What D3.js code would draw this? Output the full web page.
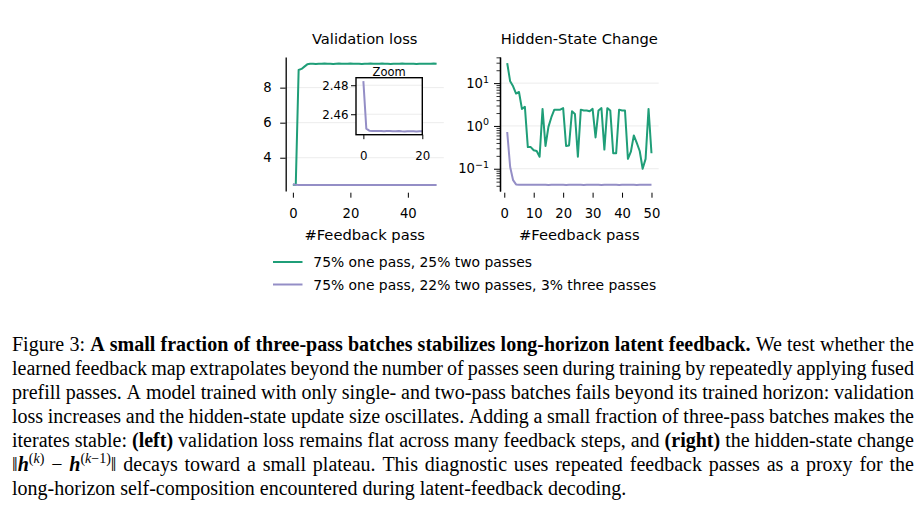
<!DOCTYPE html>
<html>
<head>
<meta charset="utf-8">
<script src="https://cdn.jsdelivr.net/npm/d3@7"></script>
<style>
  body { margin: 0; background: #fff; }
  svg text { font-family: "DejaVu Sans", sans-serif; fill: #000; white-space: pre; }
</style>
</head>
<body>
<script>
// ---- data ----
let lossPasses = d3.range(0, 51)      // x for the validation-loss panel
let changePasses = d3.range(1, 51)    // x for the hidden-state panel

let lossTicks = [4, 6, 8]
let lossXTicks = [0, 20, 40]
let changeXTicks = [0, 10, 20, 30, 40, 50]
let changeYTicks = [0.1, 1, 10]
let insetYTicks = [2.46, 2.48]
let insetXTicks = [0, 20]

let seriesNames = ["75% one pass, 25% two passes",
                   "75% one pass, 22% two passes, 3% three passes"]

// 75/25 mix
let lossTwoPass = [2.45, 2.45, 9.01, 9.07, 9.20, 9.33, 9.36, 9.37, 9.35, 9.37,
                   9.36, 9.38, 9.36, 9.37, 9.35, 9.37, 9.38, 9.36, 9.37, 9.36,
                   9.38, 9.37, 9.36, 9.37, 9.35, 9.37, 9.36, 9.38, 9.37, 9.36,
                   9.37, 9.38, 9.36, 9.37, 9.35, 9.37, 9.36, 9.37, 9.38, 9.36,
                   9.37, 9.36, 9.37, 9.35, 9.37, 9.36, 9.37, 9.36, 9.37, 9.38,
                   9.37]
// 75/22/3 mix
let lossThreePass = [2.4828, 2.4501, 2.4487, 2.4485, 2.4484, 2.4485, 2.4484, 2.4483, 2.4484, 2.4484,
                     2.4483, 2.4483, 2.4484, 2.4482, 2.4481, 2.4482, 2.4483, 2.4482, 2.4481, 2.4482,
                     2.4482, 2.4483, 2.4482, 2.4482, 2.4481, 2.4482, 2.4483, 2.4482, 2.4481, 2.4482,
                     2.4482, 2.4483, 2.4482, 2.4481, 2.4482, 2.4482, 2.4481, 2.4482, 2.4483, 2.4482,
                     2.4481, 2.4482, 2.4482, 2.4481, 2.4482, 2.4483, 2.4482, 2.4481, 2.4482, 2.4482,
                     2.4481]

let changeTwoPass = [29.3, 11.0, 8.4, 5.7, 6.2, 2.5, 2.8, 0.32, 0.32, 0.27,
                     0.26, 0.19, 2.5, 0.34, 0.95, 1.6, 2.4, 2.4, 2.4, 2.6,
                     0.34, 0.35, 2.2, 1.9, 0.19, 2.4, 2.3, 2.3, 2.2, 2.5,
                     0.54, 2.3, 2.6, 0.28, 2.6, 2.3, 0.23, 0.23, 2.4, 2.3,
                     2.3, 0.17, 0.25, 0.6, 0.4, 0.26, 0.10, 0.17, 2.5, 0.23]
let changeThreePass = [0.72, 0.11, 0.054, 0.043, 0.0425, 0.0422, 0.0421, 0.0421, 0.042, 0.0421,
                       0.042, 0.042, 0.0421, 0.042, 0.0419, 0.042, 0.042, 0.0421, 0.042, 0.042,
                       0.0419, 0.042, 0.042, 0.0421, 0.042, 0.042, 0.0419, 0.042, 0.0421, 0.042,
                       0.042, 0.042, 0.0419, 0.042, 0.0421, 0.042, 0.042, 0.042, 0.0419, 0.042,
                       0.0421, 0.042, 0.042, 0.042, 0.0419, 0.042, 0.0421, 0.042, 0.042, 0.042]

let captionLines = [
  [["Figure 3: ", ""], ["A small fraction of three-pass batches stabilizes long-horizon latent feedback.", "b"], [" We test whether the", ""]],
  [["learned feedback map extrapolates beyond the number of passes seen during training by repeatedly applying fused", ""]],
  [["prefill passes. A model trained with only single- and two-pass batches fails beyond its trained horizon: validation", ""]],
  [["loss increases and the hidden-state update size oscillates. Adding a small fraction of three-pass batches makes the", ""]],
  [["iterates stable: ", ""], ["(left)", "b"], [" validation loss remains flat across many feedback steps, and ", ""], ["(right)", "b"], [" the hidden-state change", ""]],
  [["\u2016", ""], ["h", "bi"], ["(", "sup"], ["k", "supi"], [")", "sup"], [" \u2212 ", ""], ["h", "bi"], ["(", "sup"], ["k", "supi"], ["\u22121)", "sup"], ["\u2016", ""],
   [" decays toward a small plateau. This diagnostic uses repeated feedback passes as a proxy for the", ""]],
  [["long-horizon self-composition encountered during latent-feedback decoding.", ""]]
]

// ---- setup ----
let width = 923, height = 518
let green = "#1f9e78", purple = "#948ec6", gridColor = "#ececec"
let tickFont = 13.2

let svg = d3.select("body").append("svg")
    .attr("width", width)
    .attr("height", height)

function styleAxis(g, size) {
    g.selectAll("text").style("font-size", size + "px").attr("fill", "#000")
    g.selectAll(".tick line").attr("stroke", "#000").attr("stroke-width", 1)
    g.select(".domain").attr("stroke", "#000").attr("stroke-width", 1.3)
}

// ---- left: validation loss ----
let xL = d3.scaleLinear().domain([-2.5, 52.5]).range([285.7, 443.8])
let yL = d3.scaleLinear().domain([2.1, 9.75]).range([191, 57])

svg.append("g").selectAll("line")
    .data(lossTicks).enter().append("line")
    .attr("x1", xL.range()[0]).attr("x2", xL.range()[1])
    .attr("y1", d => yL(d)).attr("y2", d => yL(d))
    .attr("stroke", gridColor).attr("stroke-width", 1)

let lineL = d3.line().x((d, i) => xL(lossPasses[i])).y(d => yL(d))
svg.append("path").datum(lossTwoPass).attr("d", lineL)
    .attr("fill", "none").attr("stroke", green).attr("stroke-width", 2).attr("stroke-linejoin", "round")
svg.append("path").datum(lossThreePass).attr("d", lineL)
    .attr("fill", "none").attr("stroke", purple).attr("stroke-width", 2).attr("stroke-linejoin", "round")

svg.append("g").attr("transform", "translate(285.7,0)")
    .call(d3.axisLeft(yL).tickValues(lossTicks).tickSize(5.5).tickSizeOuter(0).tickPadding(8.5))
    .call(g => styleAxis(g, tickFont))

svg.append("g").attr("transform", "translate(0,192.7)")
    .call(d3.axisBottom(xL).tickValues(lossXTicks).tickSize(5).tickPadding(11))
    .call(g => g.select(".domain").remove())
    .call(g => styleAxis(g, tickFont))

svg.append("text").attr("x", 364.7).attr("y", 44.3).attr("text-anchor", "middle")
    .style("font-size", "14.7px").text("Validation loss")
svg.append("text").attr("x", 364.7).attr("y", 240).attr("text-anchor", "middle")
    .style("font-size", "14.7px").text("#Feedback pass")

// inset zoom
let xI = d3.scaleLinear().domain([-2.5, 20]).range([356, 422.3])
let yI = d3.scaleLinear().domain([2.4459, 2.4852]).range([134.7, 77.7])
let inset = svg.append("g")
inset.append("rect").attr("x", 356).attr("y", 77.7).attr("width", 66.3).attr("height", 57)
    .attr("fill", "#fff")
inset.append("clipPath").attr("id", "insetClip").append("rect")
    .attr("x", 356).attr("y", 77.7).attr("width", 66.3).attr("height", 57)
inset.selectAll(".grid").data(insetYTicks).enter().append("line")
    .attr("x1", 356).attr("x2", 422.3)
    .attr("y1", d => yI(d)).attr("y2", d => yI(d))
    .attr("stroke", gridColor).attr("stroke-width", 1)
inset.append("path").datum(lossThreePass)
    .attr("clip-path", "url(#insetClip)")
    .attr("d", d3.line().x((d, i) => xI(lossPasses[i])).y(d => yI(d)))
    .attr("fill", "none").attr("stroke", purple).attr("stroke-width", 2).attr("stroke-linejoin", "round")
inset.append("rect").attr("x", 356).attr("y", 77.7).attr("width", 66.3).attr("height", 57)
    .attr("fill", "none").attr("stroke", "#000").attr("stroke-width", 1.4)
inset.append("g").attr("transform", "translate(356,0)")
    .call(d3.axisLeft(yI).tickValues(insetYTicks).tickFormat(d3.format(".2f")).tickSize(5).tickSizeOuter(0).tickPadding(2.5))
    .call(g => g.select(".domain").remove())
    .call(g => styleAxis(g, 11.8))
inset.append("g").attr("transform", "translate(0,134.7)")
    .call(d3.axisBottom(xI).tickValues(insetXTicks).tickSize(4.5).tickSizeOuter(0).tickPadding(12))
    .call(g => g.select(".domain").remove())
    .call(g => styleAxis(g, 11.8))
inset.append("text").attr("x", 389.2).attr("y", 76).attr("text-anchor", "middle")
    .style("font-size", "11.5px").text("Zoom")

// ---- right: hidden-state change ----
let xR = d3.scaleLinear().domain([-1.45, 52.45]).range([500, 658.7])
let yR = d3.scaleLog().domain([Math.pow(10, -1.52), Math.pow(10, 1.61)]).range([191, 57])

svg.append("g").selectAll("line")
    .data(changeYTicks).enter().append("line")
    .attr("x1", xR.range()[0]).attr("x2", xR.range()[1])
    .attr("y1", d => yR(d)).attr("y2", d => yR(d))
    .attr("stroke", gridColor).attr("stroke-width", 1)

let lineR = d3.line().x((d, i) => xR(changePasses[i])).y(d => yR(d))
svg.append("path").datum(changeTwoPass).attr("d", lineR)
    .attr("fill", "none").attr("stroke", green).attr("stroke-width", 2).attr("stroke-linejoin", "round")
svg.append("path").datum(changeThreePass).attr("d", lineR)
    .attr("fill", "none").attr("stroke", purple).attr("stroke-width", 2).attr("stroke-linejoin", "round")

let minorTicks = yR.ticks().filter(v => changeYTicks.indexOf(v) < 0)
svg.append("g").attr("transform", "translate(500,0)")
    .call(d3.axisLeft(yR).tickValues(minorTicks).tickFormat("").tickSize(3.5).tickSizeOuter(0))
    .call(g => styleAxis(g, tickFont))
    .call(g => g.selectAll(".tick line").attr("stroke-width", 0.8))
svg.append("g").attr("transform", "translate(500,0)")
    .call(d3.axisLeft(yR).tickValues(changeYTicks).tickSize(6).tickSizeOuter(0).tickPadding(5))
    .call(g => styleAxis(g, tickFont))
    .call(g => g.selectAll(".tick text").each(function(d) {
        let t = d3.select(this).text("")
        t.append("tspan").text("10")
        t.append("tspan").attr("dy", "-0.55em").style("font-size", "9.5px")
            .text(String(Math.round(Math.log10(d))).replace("-", "\u2212"))
    }))

svg.append("g").attr("transform", "translate(0,192.7)")
    .call(d3.axisBottom(xR).tickValues(changeXTicks).tickSize(5).tickPadding(11))
    .call(g => g.select(".domain").remove())
    .call(g => styleAxis(g, tickFont))

svg.append("text").attr("x", 579.3).attr("y", 44.3).attr("text-anchor", "middle")
    .style("font-size", "14.7px").text("Hidden-State Change")
svg.append("text").attr("x", 579.3).attr("y", 240).attr("text-anchor", "middle")
    .style("font-size", "14.7px").text("#Feedback pass")

// ---- legend ----
let legend = svg.append("g")
let legendColors = [green, purple]
seriesNames.forEach((name, i) => {
    let y = 262 + i * 22.5
    legend.append("line").attr("x1", 273).attr("x2", 302.5).attr("y1", y).attr("y2", y)
        .attr("stroke", legendColors[i]).attr("stroke-width", 2)
    legend.append("text").attr("x", 313.3).attr("y", y).attr("dy", "0.36em")
        .style("font-size", "13.9px").text(name)
})

// ---- caption, justified like the paper ----
let capFont = "'Liberation Serif', 'Times New Roman', serif"
let capLeft = 12, capRight = 914, capBase = 350.7, capLead = 24

function tokenize(segs) {
    let words = [[]]
    segs.forEach(([t, s]) => {
        t.split(" ").forEach((part, j) => {
            if (j > 0 && words[words.length - 1].length) words.push([])
            if (part) words[words.length - 1].push([part, s])
        })
    })
    return words.filter(w => w.length)
}

let cap = svg.append("g")
captionLines.forEach((segs, li) => {
    let y = capBase + li * capLead
    let words = tokenize(segs).map(pieces => {
        let t = cap.append("text").attr("y", y)
            .style("font-family", capFont).style("font-size", "20px")
        let raised = false
        pieces.forEach(([s, st]) => {
            let ts = t.append("tspan").text(s)
            let sup = st.indexOf("sup") === 0
            if (sup && !raised) { ts.attr("dy", -8); raised = true }
            if (!sup && raised) { ts.attr("dy", 8); raised = false }
            if (sup) ts.style("font-size", "14px")
            if (st === "b" || st === "bi") ts.attr("font-weight", "bold")
            if (st === "bi" || st === "supi") ts.attr("font-style", "italic")
        })
        return { t: t, w: t.node().getComputedTextLength() }
    })
    let total = d3.sum(words, d => d.w)
    let last = li === captionLines.length - 1
    let gap = last ? 5 : (capRight - capLeft - total) / (words.length - 1)
    let x = capLeft
    words.forEach(d => {
        d.t.attr("x", x)
        x += d.w + gap
    })
})
</script>
</body>
</html>
